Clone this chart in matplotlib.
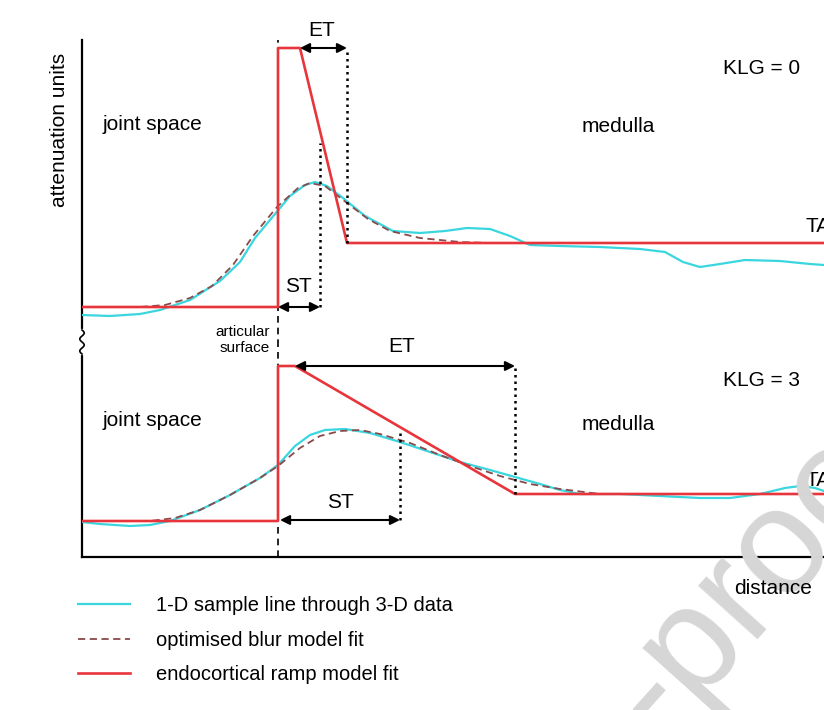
import numpy as np
import matplotlib.pyplot as plt
from matplotlib.lines import Line2D

plt.rcParams['font.family'] = ['Liberation Sans', 'DejaVu Sans']

# distance / attenuation in arbitrary units (schematic)
# KLG = 0 panel
top_ramp_x = [0, 196, 196, 218, 265, 742]
top_ramp_y = [39, 39, 298, 298, 103, 103]
top_sample_x = [0, 28, 58, 78, 108, 138, 158, 173, 188, 208, 223, 233, 245, 261, 283, 311,
                338, 363, 385, 408, 428, 448, 478, 518, 558, 583, 601, 618, 638, 663, 698, 728, 742]
top_sample_y = [31, 30, 32, 36, 46, 65, 84, 108, 126, 150, 161, 164, 160, 148, 130, 115,
                113, 115, 118, 117, 110, 101, 100, 99, 97, 94, 84, 79, 82, 86, 85, 82, 81]
top_blur_x = [0, 58, 83, 108, 130, 151, 171, 195, 216, 228, 243, 265, 286, 308, 338, 378, 408]
top_blur_y = [39, 39, 41, 48, 60, 81, 110, 139, 158, 163, 160, 143, 127, 115, 108, 104, 103]

# KLG = 3 panel
bot_ramp_x = [0, 196, 196, 213, 433, 742]
bot_ramp_y = [36, 36, 191, 191, 63, 63]
bot_sample_x = [0, 18, 48, 68, 88, 118, 148, 178, 196, 213, 228, 243, 263, 288, 318, 348,
                378, 408, 433, 458, 478, 498, 538, 578, 618, 648, 678, 703, 718, 733, 742]
bot_sample_y = [35, 33, 31, 32, 36, 47, 62, 79, 92, 111, 122, 127, 128, 124, 115, 105,
                95, 87, 80, 73, 67, 63, 63, 61, 59, 59, 63, 69, 71, 69, 66]
bot_blur_x = [0, 68, 93, 118, 148, 178, 196, 218, 238, 258, 278, 298, 328, 358, 388, 418, 448, 478, 518, 548]
bot_blur_y = [36, 36, 39, 47, 62, 79, 91, 109, 121, 126, 127, 123, 114, 102, 91, 81, 73, 68, 63, 63]

surface_x = 196
top_st, top_et = (196, 238), (218, 265)
bot_st, bot_et = (198, 318), (213, 433)

legend_labels = ['1-D sample line through 3-D data', 'optimised blur model fit',
                 'endocortical ramp model fit']

RED = '#e8353b'
CYAN = '#3ad6df'
BLUR = '#8a4a4a'

W, H = 824, 710
fig = plt.figure(figsize=(W / 100, H / 100), dpi=100)
ax_t = fig.add_axes([82 / W, 1 - 346 / H, 1 - 82 / W, 306 / H])
ax_b = fig.add_axes([82 / W, 1 - 557 / H, 1 - 82 / W, 211 / H])

panels = [
    (ax_t, top_ramp_x, top_ramp_y, top_sample_x, top_sample_y, top_blur_x, top_blur_y, 306),
    (ax_b, bot_ramp_x, bot_ramp_y, bot_sample_x, bot_sample_y, bot_blur_x, bot_blur_y, 211),
]
for ax, rx, ry, sx, sy, bx, by, ytop in panels:
    ax.set_xlim(0, 742)
    ax.set_ylim(0, ytop)
    ax.set_xticks([])
    ax.set_yticks([])
    for s in ['top', 'right', 'bottom']:
        ax.spines[s].set_visible(False)
    ax.spines['left'].set_linewidth(1.6)
    ax.patch.set_alpha(0)
    ax.plot(sx, sy, color=CYAN, lw=1.6, zorder=3)
    ax.plot(bx, by, color=BLUR, lw=1.3, ls=(0, (4, 2.5)), zorder=4)
    ax.plot(rx, ry, color=RED, lw=1.9, zorder=5)
    ax.axvline(surface_x, color='k', lw=1.2, ls=(0, (4, 3)), zorder=2)

ax_b.spines['bottom'].set_visible(True)
ax_b.spines['bottom'].set_linewidth(1.6)


def arrow(ax, x0, x1, y):
    ax.annotate('', xy=(x1, y), xytext=(x0, y),
                arrowprops=dict(arrowstyle='<|-|>', color='k', lw=1.5,
                                mutation_scale=14, shrinkA=0, shrinkB=0),
                zorder=6, annotation_clip=False)


def dotted(ax, x, y0, y1):
    ax.plot([x, x], [y0, y1], color='k', lw=1.8, ls=(0, (1, 1.6)), zorder=6)


# KLG = 0 annotations
arrow(ax_t, top_et[0], top_et[1], 298)
dotted(ax_t, top_et[1], 103, 298)
arrow(ax_t, top_st[0], top_st[1], 39)
dotted(ax_t, top_st[1], 39, 203)
ax_t.text(240, 316, 'ET', fontsize=15, ha='center', va='center', clip_on=False)
ax_t.text(216, 60, 'ST', fontsize=15, ha='center', va='center')
ax_t.text(21, 221, 'joint space', fontsize=15, ha='left', va='center')
ax_t.text(500, 219, 'medulla', fontsize=15, ha='left', va='center')
ax_t.text(641, 278, 'KLG = 0', fontsize=15, ha='left', va='center')
ax_t.text(723, 119, 'TA', fontsize=15, ha='left', va='center', clip_on=False)
ax_t.text(188, 6, 'articular\nsurface', fontsize=11, ha='right', va='center',
          linespacing=1.2, clip_on=False)

# KLG = 3 annotations
arrow(ax_b, bot_et[0], bot_et[1], 191)
dotted(ax_b, bot_et[1], 63, 191)
arrow(ax_b, bot_st[0], bot_st[1], 37)
dotted(ax_b, bot_st[1], 37, 125)
ax_b.text(320, 210, 'ET', fontsize=15, ha='center', va='center', clip_on=False)
ax_b.text(258, 54, 'ST', fontsize=15, ha='center', va='center')
ax_b.text(21, 137, 'joint space', fontsize=15, ha='left', va='center')
ax_b.text(500, 133, 'medulla', fontsize=15, ha='left', va='center')
ax_b.text(641, 176, 'KLG = 3', fontsize=15, ha='left', va='center')
ax_b.text(724, 77, 'TA', fontsize=15, ha='left', va='center', clip_on=False)

# axis break squiggle on the y axis
yy = np.linspace(330, 354, 60)
xx = 82 + 2.2 * np.sin((yy - 330) / 24 * 4 * np.pi)
fig.add_artist(Line2D([82 / W] * 2, [1 - 331 / H, 1 - 353 / H], color='white', lw=3, zorder=7))
fig.add_artist(Line2D(xx / W, 1 - yy / H, color='k', lw=1.2, zorder=8))

fig.text(60 / W, 1 - 130 / H, 'attenuation units', rotation=90, fontsize=15,
         ha='center', va='center')
fig.text(773 / W, 1 - 588 / H, 'distance', fontsize=15, ha='center', va='center')

# watermark
fig.text(660 / W, 1 - 740 / H, '-proof', rotation=48, rotation_mode='anchor',
         fontsize=108, color='#d6d6d6', ha='left', va='baseline', zorder=0)

handles = [Line2D([], [], color=CYAN, lw=1.6),
           Line2D([], [], color=BLUR, lw=1.3, ls=(0, (4, 2.5))),
           Line2D([], [], color=RED, lw=1.9)]
fig.legend(handles, legend_labels, loc='upper left', bbox_to_anchor=(78 / W, 1 - 596 / H),
           frameon=False, fontsize=14.5, handlelength=2.6, handletextpad=1.25,
           labelspacing=0.78, borderpad=0, borderaxespad=0)

fig.savefig('out.png', dpi=100)
